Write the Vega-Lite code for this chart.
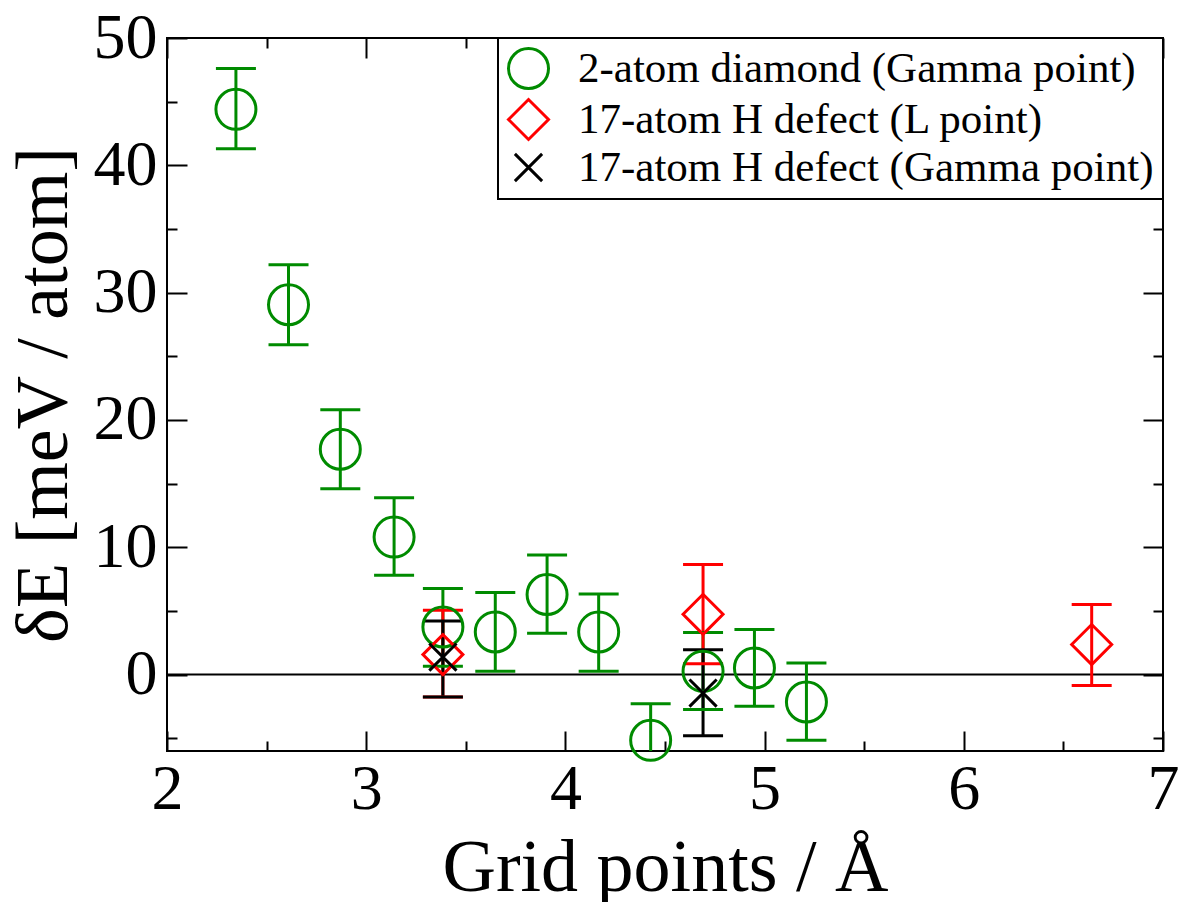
{
  "$schema": "https://vega.github.io/schema/vega-lite/v6.json",
  "width": 996,
  "height": 713,
  "autosize": {"type": "none"},
  "padding": {"left": 167, "top": 38, "right": 16, "bottom": 151},
  "background": "white",
  "config": {
    "view": {"stroke": "black", "strokeWidth": 2},
    "axis": {
      "grid": false,
      "domain": false,
      "labelFont": "Liberation Serif",
      "titleFont": "Liberation Serif",
      "labelColor": "black",
      "titleColor": "black",
      "tickColor": "black",
      "tickWidth": 2,
      "labelFontSize": 64,
      "titleFontSize": 74,
      "titleFontWeight": "normal",
      "labelFlush": false,
      "labelOverlap": false,
      "labelBound": false
    },
    "legend": {
      "orient": "top-right",
      "offset": 0,
      "strokeColor": "black",
      "strokeWidth": 2,
      "padding": 9,
      "labelFont": "Liberation Serif",
      "labelFontSize": 43,
      "labelColor": "black",
      "labelLimit": 1000,
      "symbolStrokeWidth": 3,
      "symbolSize": 1600,
      "labelOffset": 28,
      "rowPadding": -2,
      "fillColor": "white"
    }
  },
  "data": {
    "values": [
      {"s": "2-atom diamond (Gamma point)", "x": 2.346, "y": 44.4, "lo": 41.3, "hi": 47.6},
      {"s": "2-atom diamond (Gamma point)", "x": 2.61, "y": 29.05, "lo": 25.9, "hi": 32.2},
      {"s": "2-atom diamond (Gamma point)", "x": 2.87, "y": 17.7, "lo": 14.6, "hi": 20.8},
      {"s": "2-atom diamond (Gamma point)", "x": 3.14, "y": 10.8, "lo": 7.8, "hi": 13.9},
      {"s": "2-atom diamond (Gamma point)", "x": 3.385, "y": 3.74, "lo": 0.65, "hi": 6.76},
      {"s": "2-atom diamond (Gamma point)", "x": 3.648, "y": 3.35, "lo": 0.26, "hi": 6.44},
      {"s": "2-atom diamond (Gamma point)", "x": 3.908, "y": 6.29, "lo": 3.25, "hi": 9.4},
      {"s": "2-atom diamond (Gamma point)", "x": 4.167, "y": 3.35, "lo": 0.26, "hi": 6.33},
      {"s": "2-atom diamond (Gamma point)", "x": 4.428, "y": -5.16, "lo": -8.2, "hi": -2.28},
      {"s": "2-atom diamond (Gamma point)", "x": 4.691, "y": 0.26, "lo": -2.75, "hi": 3.3},
      {"s": "2-atom diamond (Gamma point)", "x": 4.949, "y": 0.52, "lo": -2.49, "hi": 3.54},
      {"s": "2-atom diamond (Gamma point)", "x": 5.21, "y": -2.15, "lo": -5.16, "hi": 0.91},
      {"s": "17-atom H defect (L point)", "x": 3.385, "y": 1.57, "lo": -1.76, "hi": 5.05},
      {"s": "17-atom H defect (L point)", "x": 4.691, "y": 4.74, "lo": 0.86, "hi": 8.64},
      {"s": "17-atom H defect (L point)", "x": 6.642, "y": 2.36, "lo": -0.86, "hi": 5.5},
      {"s": "17-atom H defect (Gamma point)", "x": 3.385, "y": 1.38, "lo": -1.76, "hi": 4.21},
      {"s": "17-atom H defect (Gamma point)", "x": 4.691, "y": -1.45, "lo": -4.8, "hi": 1.96}
    ]
  },
  "layer": [
    {
      "data": {"values": [{"zero": 0}]},
      "mark": {"type": "rule", "color": "black", "strokeWidth": 2},
      "encoding": {
        "y": {"field": "zero", "type": "quantitative", "scale": {"domain": [-6, 50], "nice": false, "zero": false}, "axis": null}
      }
    },
    {
      "mark": {"type": "rule", "strokeWidth": 3, "clip": true, "opacity": 1},
      "encoding": {
        "x": {"field": "x", "type": "quantitative", "scale": {"domain": [2, 7], "nice": false, "zero": false},
          "axis": {"orient": "bottom", "values": [2, 3, 4, 5, 6, 7], "tickSize": -20, "labelPadding": 26, "title": "Grid points / Å", "titleY": 139, "titleBaseline": "alphabetic"}},
        "y": {"field": "lo", "type": "quantitative",
          "axis": {"orient": "left", "values": [0, 10, 20, 30, 40, 50], "tickSize": -20, "labelPadding": 30, "title": "δE [meV / atom]", "titleX": -101, "titleAngle": -90, "titleBaseline": "alphabetic"}},
        "y2": {"field": "hi"},
        "stroke": {"field": "s", "type": "nominal", "legend": null,
          "scale": {"domain": ["17-atom H defect (Gamma point)", "17-atom H defect (L point)", "2-atom diamond (Gamma point)"], "range": ["#000000", "#ff0000", "#008b00"]}}
      }
    },
    {
      "mark": {"type": "tick", "orient": "horizontal", "size": 40, "thickness": 3, "clip": true, "opacity": 1},
      "encoding": {
        "x": {"field": "x", "type": "quantitative",
          "axis": {"orient": "bottom", "values": [2.5, 3.5, 4.5, 5.5, 6.5], "tickSize": -10, "labels": false, "title": null}},
        "y": {"field": "lo", "type": "quantitative",
          "axis": {"orient": "left", "values": [-5, 5, 15, 25, 35, 45], "tickSize": -10, "labels": false, "title": null}},
        "fill": {"field": "s", "type": "nominal", "legend": null,
          "scale": {"domain": ["17-atom H defect (L point)", "17-atom H defect (Gamma point)", "2-atom diamond (Gamma point)"], "range": ["#ff0000", "#000000", "#008b00"]}}
      }
    },
    {
      "mark": {"type": "tick", "orient": "horizontal", "size": 40, "thickness": 3, "clip": true, "opacity": 1},
      "encoding": {
        "x": {"field": "x", "type": "quantitative",
          "axis": {"orient": "top", "values": [2, 3, 4, 5, 6, 7], "tickSize": -20, "labels": false, "title": null}},
        "y": {"field": "hi", "type": "quantitative",
          "axis": {"orient": "right", "values": [0, 10, 20, 30, 40, 50], "tickSize": -20, "labels": false, "title": null}},
        "fill": {"field": "s", "type": "nominal", "legend": null}
      }
    },
    {
      "mark": {"type": "point", "filled": false, "strokeWidth": 3, "size": 1600, "opacity": 1},
      "encoding": {
        "x": {"field": "x", "type": "quantitative",
          "axis": {"orient": "top", "values": [2.5, 3.5, 4.5, 5.5, 6.5], "tickSize": -10, "labels": false, "title": null}},
        "y": {"field": "y", "type": "quantitative",
          "axis": {"orient": "right", "values": [-5, 5, 15, 25, 35, 45], "tickSize": -10, "labels": false, "title": null}},
        "color": {"field": "s", "type": "nominal", "legend": {"title": null},
          "scale": {"domain": ["2-atom diamond (Gamma point)", "17-atom H defect (L point)", "17-atom H defect (Gamma point)"], "range": ["#008b00", "#ff0000", "#000000"]}},
        "shape": {"field": "s", "type": "nominal", "legend": {"title": null},
          "scale": {"domain": ["2-atom diamond (Gamma point)", "17-atom H defect (L point)", "17-atom H defect (Gamma point)"], "range": ["circle", "diamond", "M-0.68,-0.68L0.68,0.68M0.68,-0.68L-0.68,0.68"]}}
      }
    }
  ],
  "resolve": {"axis": {"x": "independent", "y": "independent"}}
}
